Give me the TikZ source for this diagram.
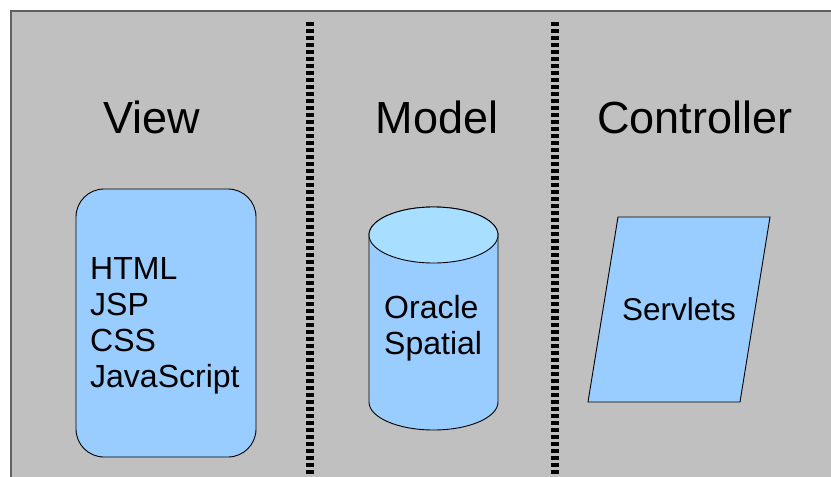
\documentclass[tikz,border=0pt]{standalone}
\usepackage{fontspec}
\setmainfont{Liberation Sans}
\definecolor{bg}{HTML}{C0C0C0}
\definecolor{boxfill}{HTML}{99CCFF}
\definecolor{cyltop}{HTML}{A8DEFF}
\definecolor{edge}{HTML}{606060}
\begin{document}
\begin{tikzpicture}[x=1pt,y=1pt,
  title/.style={font=\fontsize{45}{54}\selectfont, inner sep=0pt},
  body/.style={font=\fontsize{32}{36}\selectfont, inner sep=0pt, align=left},
  shapebox/.style={draw=black, line width=0.9pt, fill=boxfill},
  divider/.style={line width=8pt, dash pattern=on 4pt off 3pt, black}]
\useasboundingbox (0,0) rectangle (831,-477);
\fill[white] (0,0) rectangle (831,-477);
\fill[bg] (11,-11) rectangle (831,-477);
\draw[edge, line width=1.3pt] (11,-477) -- (11,-11) -- (831,-11);
% dividers
\draw[divider] (310,-22) -- (310,-477);
\draw[divider] (555,-22) -- (555,-477);
% titles
\node[title, anchor=base] (tview) at (151.5,-133) {View};
\node[title, anchor=base] (tmodel) at (437,-133) {Model};
\node[title, anchor=base] (tctrl) at (695,-133) {Controller};
% view box
\node[shapebox, rounded corners=28pt, minimum width=180pt, minimum height=268pt, inner sep=0pt] (viewbox) at (166,-323) {};
\node[body, anchor=base west] (viewtext) at (90,-387) {HTML\\JSP\\CSS\\JavaScript};
% cylinder
\path[shapebox] (369,-235) -- (369,-402) arc[start angle=180, end angle=360, x radius=64.5pt, y radius=28pt] -- (498,-235) arc[start angle=0, end angle=180, x radius=64.5pt, y radius=28pt] -- cycle;
\draw[line width=0.9pt, fill=cyltop] (433.5,-235) ellipse[x radius=64.5pt, y radius=28pt];
\node[body, anchor=base west] (modeltext) at (384,-354) {Oracle\\Spatial};
% parallelogram
\path[shapebox] (618,-217) -- (770,-217) -- (740,-402) -- (588,-402) -- cycle;
\node[body, font=\fontsize{31.5}{36}\selectfont, anchor=base] (ctrltext) at (679,-320) {Servlets};
\end{tikzpicture}
\end{document}
